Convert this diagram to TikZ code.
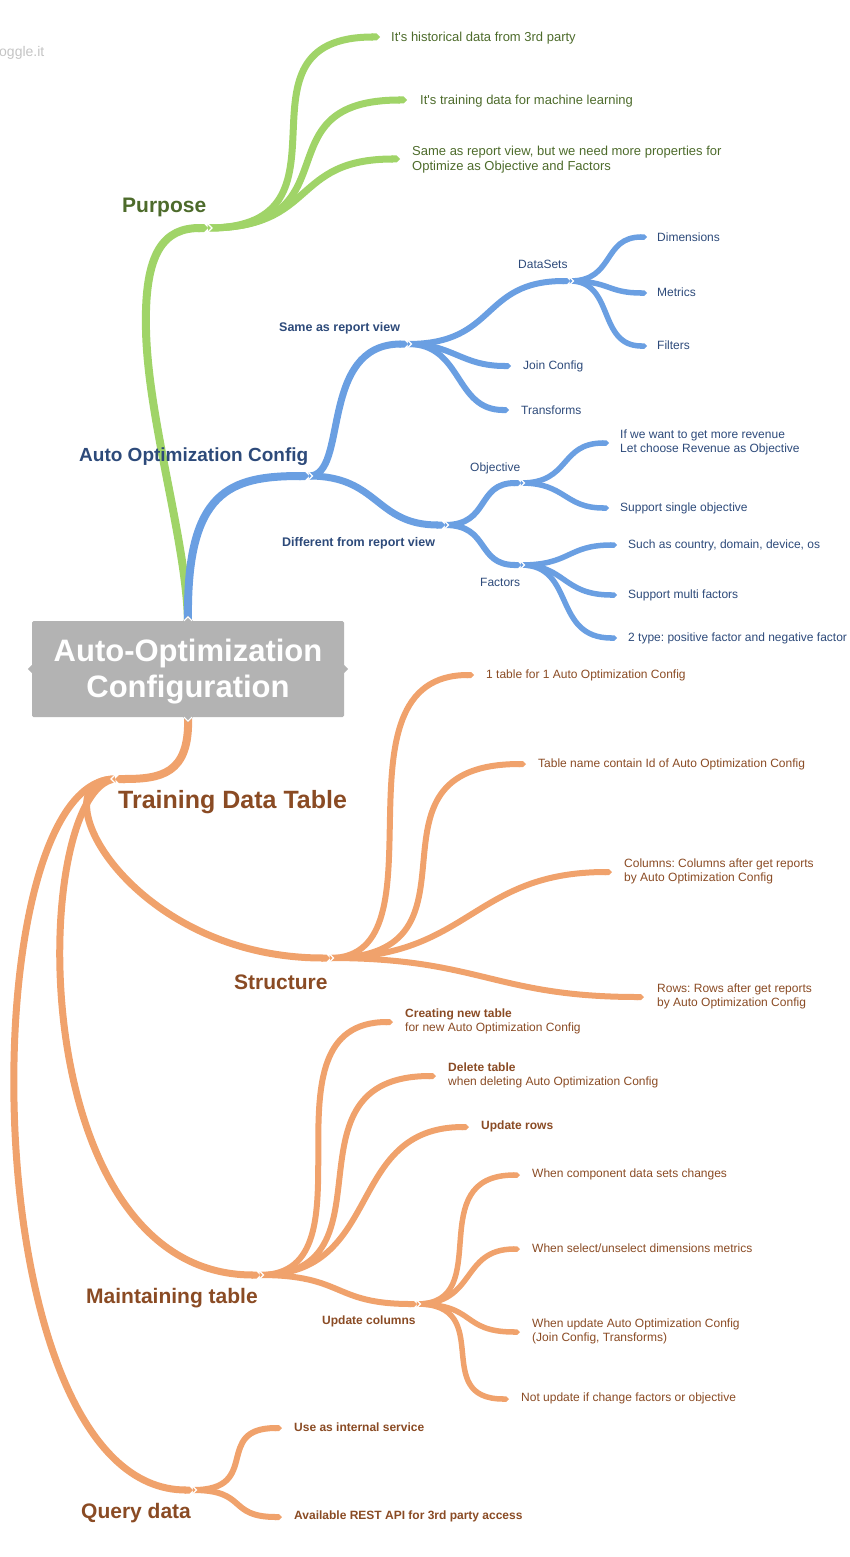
\documentclass[tikz,border=0pt]{standalone}
\usepackage{fontspec}
\setmainfont{Liberation Sans}
\newfontfamily\apofont{Liberation Sans}
\usetikzlibrary{arrows.meta}
\frenchspacing
\definecolor{gB}{HTML}{A0D468}
\definecolor{bB}{HTML}{6A9FE2}
\definecolor{oB}{HTML}{F0A26C}
\definecolor{gT}{HTML}{4D6B2B}
\definecolor{bT}{HTML}{2D4A7A}
\definecolor{oT}{HTML}{8A4B24}
\definecolor{boxG}{HTML}{B3B3B3}
\definecolor{wmG}{HTML}{C4C4C4}
\newcommand\apo{{\apofont\char39\relax}}
\tikzset{
  br/.style={line width=#1, -{Triangle Cap}},
  chev/.style={white, line width=1.1pt},
  lf/.style={anchor=west, inner sep=0pt, align=left, yshift=-1.5pt, font=\fontsize{12}{14}\selectfont},
  lfg/.style={lf, text=gT, font=\fontsize{13}{15}\selectfont},
  lfb/.style={lf, text=bT},
  lfo/.style={lf, text=oT},
  hd/.style={anchor=west, inner sep=0pt, yshift=-1.5pt, font=\bfseries\fontsize{#1}{#1}\selectfont},
}
\begin{document}
\frenchspacing
\begin{tikzpicture}[x=1pt,y=-1pt]
\useasboundingbox (0,0) rectangle (850,1557);
% coordinates
\coordinate (rt) at (188,621); \coordinate (rb) at (188,717);
\coordinate (pur) at (208,228);
\coordinate (g1) at (380,37);
\coordinate (g2) at (407,100);
\coordinate (g3) at (400,159);
\coordinate (aoc) at (309,476);
\coordinate (same) at (408,344);
\coordinate (diff) at (445,525);
\coordinate (ds) at (570,281);
\coordinate (jc) at (511,366);
\coordinate (tr) at (509,410);
\coordinate (dim) at (647,237);
\coordinate (met) at (647,293);
\coordinate (fil) at (647,346);
\coordinate (obj) at (521,483);
\coordinate (fac) at (521,565);
\coordinate (o1) at (609,443);
\coordinate (o2) at (609,508);
\coordinate (f1) at (617,545);
\coordinate (f2) at (617,595);
\coordinate (f3) at (617,638);
\coordinate (tdt) at (115,779);
\coordinate (st) at (330,958);
\coordinate (mt) at (260,1275);
\coordinate (qd) at (193,1490);
\coordinate (s1) at (474,675);
\coordinate (s2) at (526,764);
\coordinate (s3) at (612,872);
\coordinate (s4) at (644,997);
\coordinate (m1) at (393,1022);
\coordinate (m2) at (436,1076);
\coordinate (m3) at (469,1127);
\coordinate (uc) at (417,1304);
\coordinate (u1) at (520,1175);
\coordinate (u2) at (520,1249);
\coordinate (u3) at (520,1332);
\coordinate (u4) at (509,1399);
\coordinate (q1) at (282,1428);
\coordinate (q2) at (282,1517);

% watermark
\node[anchor=west, inner sep=0pt, text=wmG, font=\fontsize{14}{16}\selectfont] (wm) at (-1,53) {oggle.it};

% ---------- green
\draw[br=8, gB] (rt) .. controls (186,540) and (148,420) .. (146,330) .. controls (144,250) and (165,228) .. (pur);
\draw[br=7, gB] (pur) .. controls +(160,0) and +(-160,0) .. (g1);
\draw[br=7, gB] (pur) .. controls +(150,0) and +(-150,0) .. (g2);
\draw[br=7, gB] (pur) .. controls +(110,0) and +(-110,0) .. (g3);
\draw[chev] ([shift={(0,-4)}]pur) -- ([shift={(4,0)}]pur) -- ([shift={(0,4)}]pur);

% ---------- blue
\draw[br=8, bB] (rt) .. controls (186,490) and (230,476) .. (aoc);
\draw[br=7, bB] (aoc) .. controls +(40,0) and +(-90,0) .. (same);
\draw[br=7, bB] (aoc) .. controls +(70,0) and +(-70,0) .. (diff);
\draw[br=6, bB] (same) .. controls +(90,0) and +(-90,0) .. (ds);
\draw[br=6, bB] (same) .. controls +(45,0) and +(-50,0) .. (jc);
\draw[br=6, bB] (same) .. controls +(55,0) and +(-55,0) .. (tr);
\draw[br=5.5, bB] (ds) .. controls +(45,0) and +(-45,0) .. (dim);
\draw[br=5.5, bB] (ds) .. controls +(40,0) and +(-40,0) .. (met);
\draw[br=5.5, bB] (ds) .. controls +(45,0) and +(-50,0) .. (fil);
\draw[br=6, bB] (diff) .. controls +(45,0) and +(-45,0) .. (obj);
\draw[br=6, bB] (diff) .. controls +(45,0) and +(-45,0) .. (fac);
\draw[br=5.5, bB] (obj) .. controls +(50,0) and +(-50,0) .. (o1);
\draw[br=5.5, bB] (obj) .. controls +(45,0) and +(-45,0) .. (o2);
\draw[br=5.5, bB] (fac) .. controls +(50,0) and +(-50,0) .. (f1);
\draw[br=5.5, bB] (fac) .. controls +(45,0) and +(-55,0) .. (f2);
\draw[br=5.5, bB] (fac) .. controls +(55,0) and +(-65,0) .. (f3);
\foreach \c in {aoc,same,diff,ds,obj,fac}{
  \draw[chev] ([shift={(0,-3.5)}]\c) -- ([shift={(3.5,0)}]\c) -- ([shift={(0,3.5)}]\c);
}

% ---------- orange
\draw[br=8, oB] (rb) .. controls (190,775) and (160,779) .. (tdt);
\draw[br=7, oB] (tdt) .. controls +(-80,0) and +(-200,0) .. (st);
\draw[br=7, oB] (tdt) .. controls +(-85,10) and +(-240,0) .. (mt);
\draw[br=7, oB] (tdt) .. controls +(-145,0) and +(-223,0) .. (qd);
\draw[br=6, oB] (st) .. controls +(120,0) and +(-150,0) .. (s1);
\draw[br=6, oB] (st) .. controls +(170,0) and +(-180,0) .. (s2);
\draw[br=6, oB] (st) .. controls +(140,0) and +(-140,0) .. (s3);
\draw[br=6, oB] (st) .. controls +(150,0) and +(-150,0) .. (s4);
\draw[br=6, oB] (mt) .. controls +(120,0) and +(-140,0) .. (m1);
\draw[br=6, oB] (mt) .. controls +(140,0) and +(-160,0) .. (m2);
\draw[br=6, oB] (mt) .. controls +(125,0) and +(-125,0) .. (m3);
\draw[br=6, oB] (mt) .. controls +(85,0) and +(-85,0) .. (uc);
\draw[br=5.5, oB] (uc) .. controls +(80,0) and +(-100,0) .. (u1);
\draw[br=5.5, oB] (uc) .. controls +(60,0) and +(-60,0) .. (u2);
\draw[br=5.5, oB] (uc) .. controls +(60,0) and +(-60,0) .. (u3);
\draw[br=5.5, oB] (uc) .. controls +(80,0) and +(-80,0) .. (u4);
\draw[br=6, oB] (qd) .. controls +(70,0) and +(-70,0) .. (q1);
\draw[br=6, oB] (qd) .. controls +(55,0) and +(-55,0) .. (q2);
\draw[chev] ([shift={(0,-4)}]tdt) -- ([shift={(-4,0)}]tdt) -- ([shift={(0,4)}]tdt);
\foreach \c in {st,mt,qd,uc}{
  \draw[chev] ([shift={(0,-3.5)}]\c) -- ([shift={(3.5,0)}]\c) -- ([shift={(0,3.5)}]\c);
}

% ---------- central box
\node[fill=boxG, rounded corners=1.5pt, minimum width=312pt, minimum height=96pt, inner sep=0pt] (root) at (188,669) {};
\node[inner sep=0pt, text=white, align=center, font=\bfseries\fontsize{31}{36}\selectfont] (rootlbl) at (188,672)
      {Auto-Optimization\\Configuration};
\fill[boxG] ([shift={(0,-4)}]root.west) -- ([shift={(-4,0)}]root.west) -- ([shift={(0,4)}]root.west) -- cycle;
\fill[boxG] ([shift={(0,-4)}]root.east) -- ([shift={(4,0)}]root.east) -- ([shift={(0,4)}]root.east) -- cycle;
\fill[boxG] ([shift={(-5,0)}]root.north) -- ([shift={(0,-5)}]root.north) -- ([shift={(5,0)}]root.north) -- cycle;
\draw[chev] ([shift={(-4,0)}]root.north) -- ([shift={(0,-4)}]root.north) -- ([shift={(4,0)}]root.north);
\fill[boxG] ([shift={(-5,0)}]root.south) -- ([shift={(0,5)}]root.south) -- ([shift={(5,0)}]root.south) -- cycle;
\draw[chev] ([shift={(-4,0)}]root.south) -- ([shift={(0,4)}]root.south) -- ([shift={(4,0)}]root.south);

% ---------- labels green
\node[hd=21, text=gT] (tpur) at (122,206) {Purpose};
\node[lfg] (tg1) at (391,37) {It\apo s historical data from 3rd party};
\node[lfg] (tg2) at (420,100) {It\apo s training data for machine learning};
\node[lfg] (tg3) at (412,158) {Same as report view, but we need more properties for\\Optimize as Objective and Factors};

% ---------- labels blue
\node[hd=19, text=bT] (taoc) at (79,455) {Auto Optimization Config};
\node[hd=12.5, text=bT] (tsame) at (279,327) {Same as report view};
\node[hd=12.5, text=bT] (tdiff) at (282,542) {Different from report view};
\node[lfb] (tds) at (518,263) {DataSets};
\node[lfb] (tjc) at (523,365) {Join Config};
\node[lfb] (ttr) at (521,409) {Transforms};
\node[lfb] (tdim) at (657,236) {Dimensions};
\node[lfb] (tmet) at (657,291) {Metrics};
\node[lfb] (tfil) at (657,344) {Filters};
\node[lfb] (tobj) at (470,467) {Objective};
\node[lfb] (tfac) at (480,581) {Factors};
\node[lfb] (to1) at (620,441) {If we want to get more revenue\\Let choose Revenue as Objective};
\node[lfb] (to2) at (620,507) {Support single objective};
\node[lfb] (tf1) at (628,544) {Such as country, domain, device, os};
\node[lfb] (tf2) at (628,594) {Support multi factors};
\node[lfb] (tf3) at (628,637) {2 type: positive factor and negative factor};

% ---------- labels orange
\node[hd=25, text=oT] (ttdt) at (118,801) {Training Data Table};
\node[hd=21, text=oT] (tst) at (234,981) {Structure};
\node[hd=21, text=oT] (tmt) at (86,1297) {Maintaining table};
\node[hd=21, text=oT] (tqd) at (81,1512) {Query data};
\node[lfo] (ts1) at (486,674) {1 table for 1 Auto Optimization Config};
\node[lfo] (ts2) at (538,763) {Table name contain Id of Auto Optimization Config};
\node[lfo] (ts3) at (624,870) {Columns: Columns after get reports\\by Auto Optimization Config};
\node[lfo] (ts4) at (657,995) {Rows: Rows after get reports\\by Auto Optimization Config};
\node[lfo] (tm1) at (405,1020) {\textbf{Creating new table}\\for new Auto Optimization Config};
\node[lfo] (tm2) at (448,1074) {\textbf{Delete table}\\when deleting Auto Optimization Config};
\node[lfo] (tm3) at (481,1125) {\textbf{Update rows}};
\node[hd=12, text=oT] (tuc) at (322,1320) {Update columns};
\node[lfo] (tu1) at (532,1173) {When component data sets changes};
\node[lfo] (tu2) at (532,1247) {When select/unselect dimensions metrics};
\node[lfo] (tu3) at (532,1330) {When update Auto Optimization Config\\(Join Config, Transforms)};
\node[lfo] (tu4) at (521,1397) {Not update if change factors or objective};
\node[lfo] (tq1) at (294,1426) {\textbf{Use as internal service}};
\node[lfo] (tq2) at (294,1515) {\textbf{Available REST API for 3rd party access}};
\end{tikzpicture}
\end{document}
